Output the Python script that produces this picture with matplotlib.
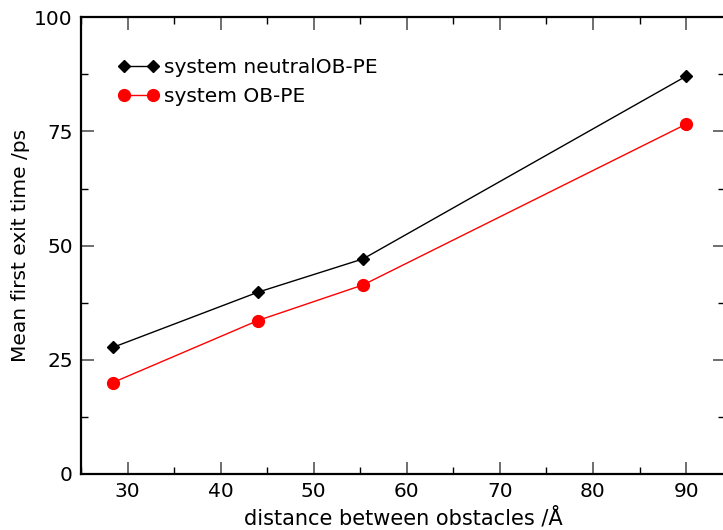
import matplotlib
matplotlib.use("Agg")
import matplotlib.pyplot as plt
from matplotlib.ticker import MultipleLocator

# values
distance = [28.4, 44.0, 55.3, 90.0]
neutral_ob_pe = [27.7, 39.8, 47.1, 87.1]
ob_pe = [20.0, 33.6, 41.4, 76.6]

x_ticks = [30, 40, 50, 60, 70, 80, 90]
y_ticks = [0, 25, 50, 75, 100]

plt.rcParams["font.family"] = ["DejaVu Sans"]

fig = plt.figure(figsize=(7.23, 5.30), dpi=100)
ax = fig.add_axes([0.112, 0.1057, 0.891, 0.8616])

ax.plot(distance, neutral_ob_pe, color="black", marker="D", markersize=6.5, linewidth=1.0,
        label="system neutralOB-PE")
ax.plot(distance, ob_pe, color="red", marker="o", markersize=8.5, linewidth=1.0,
        label="system OB-PE")

ax.set_xlim(25, 94.2)
ax.set_ylim(0, 100)
ax.set_xticks(x_ticks)
ax.set_yticks(y_ticks)
ax.xaxis.set_minor_locator(MultipleLocator(5))
ax.yaxis.set_minor_locator(MultipleLocator(12.5))

ax.tick_params(which="both", direction="in", top=True, right=True, labelsize=14.5, pad=6)
ax.tick_params(which="major", length=9, width=1.2, color="#555555")
ax.tick_params(which="minor", length=5, width=1.0, color="black")
for spine in ax.spines.values():
    spine.set_linewidth(1.6)

ax.set_xlabel("distance between obstacles /Å", fontsize=15, labelpad=4)
ax.set_ylabel("Mean first exit time /ps", fontsize=14.5, labelpad=3)

ax.legend(loc="upper left", bbox_to_anchor=(0.03, 0.95), frameon=False, fontsize=14.5,
          handlelength=2.0, handletextpad=0.25, labelspacing=0.5, numpoints=2)

fig.savefig("out.png", dpi=100)
